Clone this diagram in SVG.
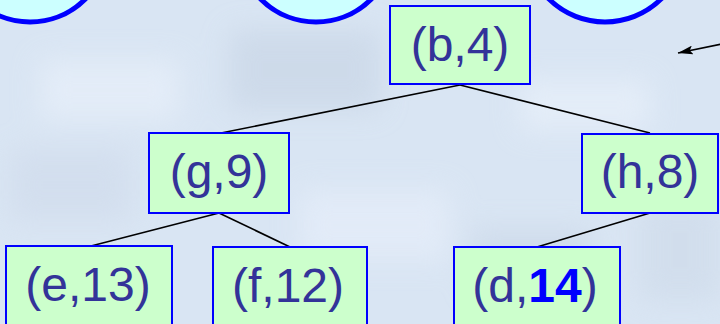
<svg xmlns="http://www.w3.org/2000/svg" width="720" height="324" viewBox="0 0 720 324">
  <defs>
    <style>
      .node rect { fill: #ccffcc; stroke: #0000ff; stroke-width: 2; }
      .node text { font-family: "Liberation Sans", Arial, sans-serif; font-size: 48px; fill: #333399; text-anchor: middle; }
      .node text .hl { fill: #0000ff; font-weight: bold; }
      .ring { fill: #ccffff; stroke: #0000ff; stroke-width: 5; }
      .edge { stroke: #000000; stroke-width: 1.6; fill: none; }
    </style>
    <filter id="soft" x="-20%" y="-20%" width="140%" height="140%">
      <feGaussianBlur stdDeviation="14"/>
    </filter>
    <marker id="head" viewBox="0 0 15 9" refX="15" refY="4.5" markerWidth="15" markerHeight="9" markerUnits="userSpaceOnUse" orient="auto">
      <path d="M0,0 L15,4.5 L0,9 L3,4.5 z" fill="#000000"/>
    </marker>
  </defs>

  <!-- backdrop: pale blue with soft cloudy patches -->
  <rect x="0" y="0" width="720" height="324" fill="#d9e5f3"/>
  <g filter="url(#soft)" opacity="0.7">
    <rect x="40" y="60" width="140" height="60" fill="#e8f0fa"/>
    <rect x="230" y="30" width="150" height="80" fill="#c9d6e6"/>
    <rect x="300" y="190" width="150" height="70" fill="#e6eefa"/>
    <rect x="520" y="80" width="130" height="50" fill="#e9f1fb"/>
    <rect x="470" y="230" width="120" height="60" fill="#cbd8e8"/>
    <rect x="640" y="200" width="80" height="100" fill="#cfdbea"/>
    <rect x="10" y="150" width="120" height="70" fill="#d0dcec"/>
  </g>

  <!-- partial circles along the top edge -->
  <circle class="ring" cx="30" cy="-56" r="78"/>
  <circle class="ring" cx="316" cy="-56" r="78"/>
  <circle class="ring" cx="605" cy="-58" r="80"/>

  <!-- pointer arrow -->
  <line class="edge" x1="722" y1="44" x2="678" y2="53" marker-end="url(#head)"/>

  <!-- tree connectors -->
  <g id="edges">
    <line class="edge" x1="460" y1="85" x2="221" y2="133"/>
    <line class="edge" x1="460" y1="85" x2="650" y2="133"/>
    <line class="edge" x1="219" y1="213" x2="91" y2="246"/>
    <line class="edge" x1="219" y1="213" x2="290" y2="247"/>
    <line class="edge" x1="650" y1="213" x2="537" y2="247"/>
  </g>

  <g id="node-b4" class="node">
    <rect x="390" y="6" width="140" height="78"/>
    <text x="460" y="61">(b,4)</text>
  </g>
  <g id="node-g9" class="node">
    <rect x="149" y="133" width="140" height="80"/>
    <text x="219" y="188">(g,9)</text>
  </g>
  <g id="node-h8" class="node">
    <rect x="582" y="134" width="136" height="79"/>
    <text x="650" y="188">(h,8)</text>
  </g>
  <g id="node-e13" class="node">
    <rect x="6" y="246" width="166" height="84"/>
    <text x="88" y="301">(e,13)</text>
  </g>
  <g id="node-f12" class="node">
    <rect x="213" y="247" width="154" height="84"/>
    <text x="288" y="302">(f,12)</text>
  </g>
  <g id="node-d14" class="node">
    <rect x="454" y="247" width="166" height="84"/>
    <text x="535" y="302">(d,<tspan class="hl">14</tspan>)</text>
  </g>
</svg>
